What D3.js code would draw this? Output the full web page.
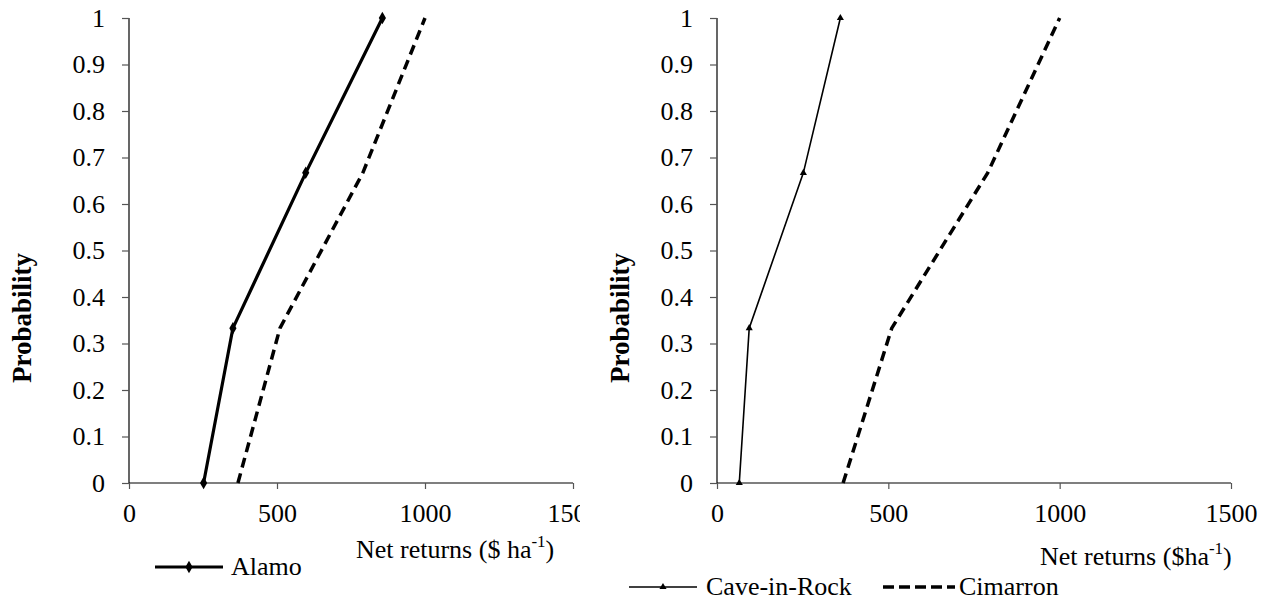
<!DOCTYPE html>
<html>
<head>
<meta charset="utf-8">
<script src="https://cdn.jsdelivr.net/npm/d3@7"></script>
<style>
  html, body { margin: 0; padding: 0; background: #fff; }
  svg, svg text { font-family: "Liberation Serif", Tinos, "Times New Roman", Times, "DejaVu Serif", serif !important; }
</style>
</head>
<body>
<svg id="chart" width="1279" height="607"></svg>
<script>
// ---- data ----
const probabilities = [0, 0.333, 0.667, 1];
const alamo = [252, 351, 597, 856];
const cimarron = [368, 510, 790, 1000];
const caveInRock = [65, 94, 252, 360];
const xTickValues = [0, 500, 1000, 1500];
const yTickValues = [0, 0.1, 0.2, 0.3, 0.4, 0.5, 0.6, 0.7, 0.8, 0.9, 1];

const FONT = '"Liberation Serif", Tinos, "Times New Roman", Times, "DejaVu Serif", serif';
const svg = d3.select("#chart");
const FS = 26;

// clip for left panel (its right edge is cut off)
svg.append("defs").append("clipPath").attr("id", "leftClip")
  .append("rect").attr("x", 0).attr("y", 0).attr("width", 580).attr("height", 607);

function panel(g, xRange, seriesList, xLabelParts, xLabelPos, yLabelX) {
  const x = d3.scaleLinear().domain([0, 1500]).range(xRange);
  const y = d3.scaleLinear().domain([0, 1]).range([483, 18]);

  const yAxis = d3.axisLeft(y).tickValues(yTickValues).tickSize(7).tickPadding(17)
    .tickFormat(d => d3.format("~g")(d));
  const ya = g.append("g").attr("transform", `translate(${xRange[0]},0)`).call(yAxis);
  const xAxis = d3.axisBottom(x).tickValues(xTickValues).tickSize(6).tickPadding(15)
    .tickFormat(d3.format("d"));
  const xa = g.append("g").attr("transform", `translate(0,483)`).call(xAxis);
  [ya, xa].forEach(a => {
    a.attr("font-family", FONT).attr("font-size", FS);
    a.select(".domain").attr("stroke", "#000").attr("stroke-width", 1.2);
    a.selectAll(".tick line").attr("stroke", "#555").attr("stroke-width", 1.2);
    a.selectAll(".tick text").attr("fill", "#000").attr("font-family", FONT).attr("font-size", FS);
  });
  ya.select(".domain").attr("d", `M0,${y(1)}V${y(0)}`);
  xa.select(".domain").attr("d", `M${xRange[0]},0H${xRange[1]}`);

  // y label
  g.append("text")
    .attr("transform", `translate(${yLabelX},318) rotate(-90)`)
    .attr("text-anchor", "middle")
    .attr("font-weight", "bold")
    .attr("font-family", FONT)
    .attr("font-size", 27)
    .text("Probability");

  // x label
  const t = g.append("text").attr("x", xLabelPos[0]).attr("y", xLabelPos[1])
    .attr("font-family", FONT).attr("font-size", FS);
  t.append("tspan").text(xLabelParts[0]);
  t.append("tspan").attr("dy", -11).attr("font-size", 17).text("-1");
  t.append("tspan").attr("dy", 11).text(")");

  const line = d3.line().x(d => x(d[0])).y(d => y(d[1]));
  seriesList.forEach(s => {
    const pts = s.values.map((v, i) => [v, probabilities[i]]);
    g.append("path").datum(pts)
      .attr("d", line)
      .attr("fill", "none")
      .attr("stroke", "#000")
      .attr("stroke-width", s.width)
      .attr("stroke-dasharray", s.dash || null)
      .attr("stroke-linejoin", "miter");
    if (s.symbol) {
      g.selectAll(null).data(pts).enter().append("path")
        .attr("transform", d => `translate(${x(d[0])},${y(d[1])})`)
        .attr("d", d3.symbol().type(s.symbol).size(s.symSize))
        .attr("fill", "#000");
    }
  });
  return { x, y };
}

// Left panel
const left = svg.append("g").attr("clip-path", "url(#leftClip)");
panel(left, [129, 573], [
  { values: cimarron, width: 3.5, dash: "10,6" },
  { values: alamo, width: 3.2, symbol: d3.symbolDiamond, symSize: 45 }
], ["Net returns ($ ha"], [356, 558], 31);

// Right panel
const right = svg.append("g");
panel(right, [717, 1231], [
  { values: cimarron, width: 3.5, dash: "10,6" },
  { values: caveInRock, width: 1.6, symbol: d3.symbolTriangle, symSize: 22 }
], ["Net returns ($ha"], [1040, 565], 629);

// Legends
function legendItem(x0, x1, yy, textX, label, opts) {
  svg.append("line").attr("x1", x0).attr("x2", x1).attr("y1", yy).attr("y2", yy)
    .attr("stroke", "#000").attr("stroke-width", opts.width)
    .attr("stroke-dasharray", opts.dash || null);
  if (opts.symbol) {
    svg.append("path").attr("transform", `translate(${(x0 + x1) / 2},${yy})`)
      .attr("d", d3.symbol().type(opts.symbol).size(opts.symSize)).attr("fill", "#000");
  }
  svg.append("text").attr("x", textX).attr("y", yy + 8)
    .attr("font-family", FONT).attr("font-size", FS).text(label);
}
legendItem(155, 223, 567, 231, "Alamo", { width: 3.2, symbol: d3.symbolDiamond, symSize: 45 });
legendItem(629, 697, 587, 706, "Cave-in-Rock", { width: 1.6, symbol: d3.symbolTriangle, symSize: 22 });
legendItem(883, 955, 587, 959, "Cimarron", { width: 3.5, dash: "11,5" });
</script>
</body>
</html>
